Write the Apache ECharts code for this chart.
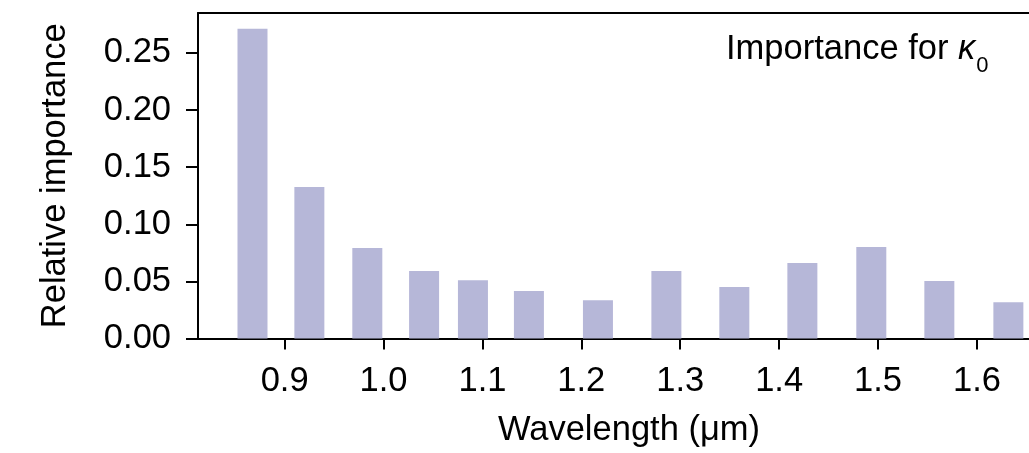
<!DOCTYPE html>
<html>
<head>
<meta charset="utf-8">
<script src="https://cdn.jsdelivr.net/npm/echarts@6/dist/echarts.min.js"></script>
<style>
  html, body { margin: 0; padding: 0; background: #ffffff; }
  #chart { width: 1029px; height: 453px; }
</style>
</head>
<body>
<div id="chart"></div>
<script>
// Band centre wavelengths (µm) and their relative importance
const wavelengths = [0.8675, 0.925, 0.9836, 1.041, 1.0904, 1.147, 1.2168, 1.286, 1.3547, 1.4235, 1.4932, 1.562, 1.6318];
const importance  = [0.2713, 0.1327, 0.0792, 0.0590, 0.0511, 0.0415, 0.0336, 0.0590, 0.0450, 0.0660, 0.0801, 0.0503, 0.0318];

const xTicks = [0.9, 1.0, 1.1, 1.2, 1.3, 1.4, 1.5, 1.6];
const yTicks = [0.00, 0.05, 0.10, 0.15, 0.20, 0.25];

const FONT = 'Liberation Sans, Arial, Helvetica, sans-serif';
const FS = 34.5;
const xMin = 0.8124, xMax = 1.684;

// width of the annotation text, so the subscript sits right after the kappa
const measure = document.createElement('canvas').getContext('2d');
measure.font = FS + 'px ' + FONT;
const plainW = measure.measureText('Importance for ').width;
measure.font = 'italic ' + FS + 'px ' + FONT;
const kappaW = measure.measureText('\u03ba').width;
const noteLeft = 726;

const chart = echarts.init(document.getElementById('chart'), null, { renderer: 'canvas' });

chart.setOption({
  animation: false,
  backgroundColor: '#ffffff',
  grid: { left: 198, top: 13, right: -31, bottom: 114.5, outerBoundsMode: 'none' },
  xAxis: [
    {
      type: 'value', min: xMin, max: xMax, position: 'bottom',
      name: 'Wavelength (\u03bcm)', nameLocation: 'middle', nameGap: 74,
      nameTextStyle: { fontFamily: FONT, fontSize: FS, color: '#000' },
      axisLine: { show: true, lineStyle: { color: '#000', width: 2 } },
      axisTick: { show: true, inside: false, length: 11, lineStyle: { color: '#000', width: 2 }, customValues: xTicks },
      axisLabel: { show: true, margin: 25, fontFamily: FONT, fontSize: FS, color: '#000',
                   customValues: xTicks, formatter: v => Number(v).toFixed(1) },
      splitLine: { show: false }
    },
    {
      // top frame line
      type: 'value', min: xMin, max: xMax, position: 'top',
      axisLine: { show: true, lineStyle: { color: '#000', width: 2 } },
      axisTick: { show: false }, axisLabel: { show: false }, splitLine: { show: false }
    }
  ],
  yAxis: {
    type: 'value', min: 0, max: 0.285,
    name: 'Relative importance', nameLocation: 'middle', nameGap: 125,
    nameTextStyle: { fontFamily: FONT, fontSize: FS, color: '#000' },
    axisLine: { show: true, lineStyle: { color: '#000', width: 2 } },
    axisTick: { show: true, inside: false, length: 12, lineStyle: { color: '#000', width: 2 }, customValues: yTicks },
    axisLabel: { show: true, margin: 27, fontFamily: FONT, fontSize: FS, color: '#000',
                 customValues: yTicks, formatter: v => Number(v).toFixed(2) },
    splitLine: { show: false }
  },
  series: [{
    type: 'bar',
    xAxisIndex: 0,
    barWidth: 30,
    itemStyle: { color: '#b6b7d8' },
    data: wavelengths.map((w, i) => [w, importance[i]])
  }],
  graphic: [
    {
      type: 'text', left: noteLeft, top: 32,
      style: { text: 'Importance for ', font: FS + 'px ' + FONT, fill: '#000' }
    },
    {
      type: 'text', left: noteLeft + plainW, top: 32,
      style: { text: '\u03ba', font: 'italic ' + FS + 'px ' + FONT, fill: '#000' }
    },
    {
      type: 'text', left: noteLeft + plainW + kappaW + 1, top: 55,
      style: { text: '0', font: '22px ' + FONT, fill: '#000' }
    }
  ]
});
</script>
</body>
</html>
